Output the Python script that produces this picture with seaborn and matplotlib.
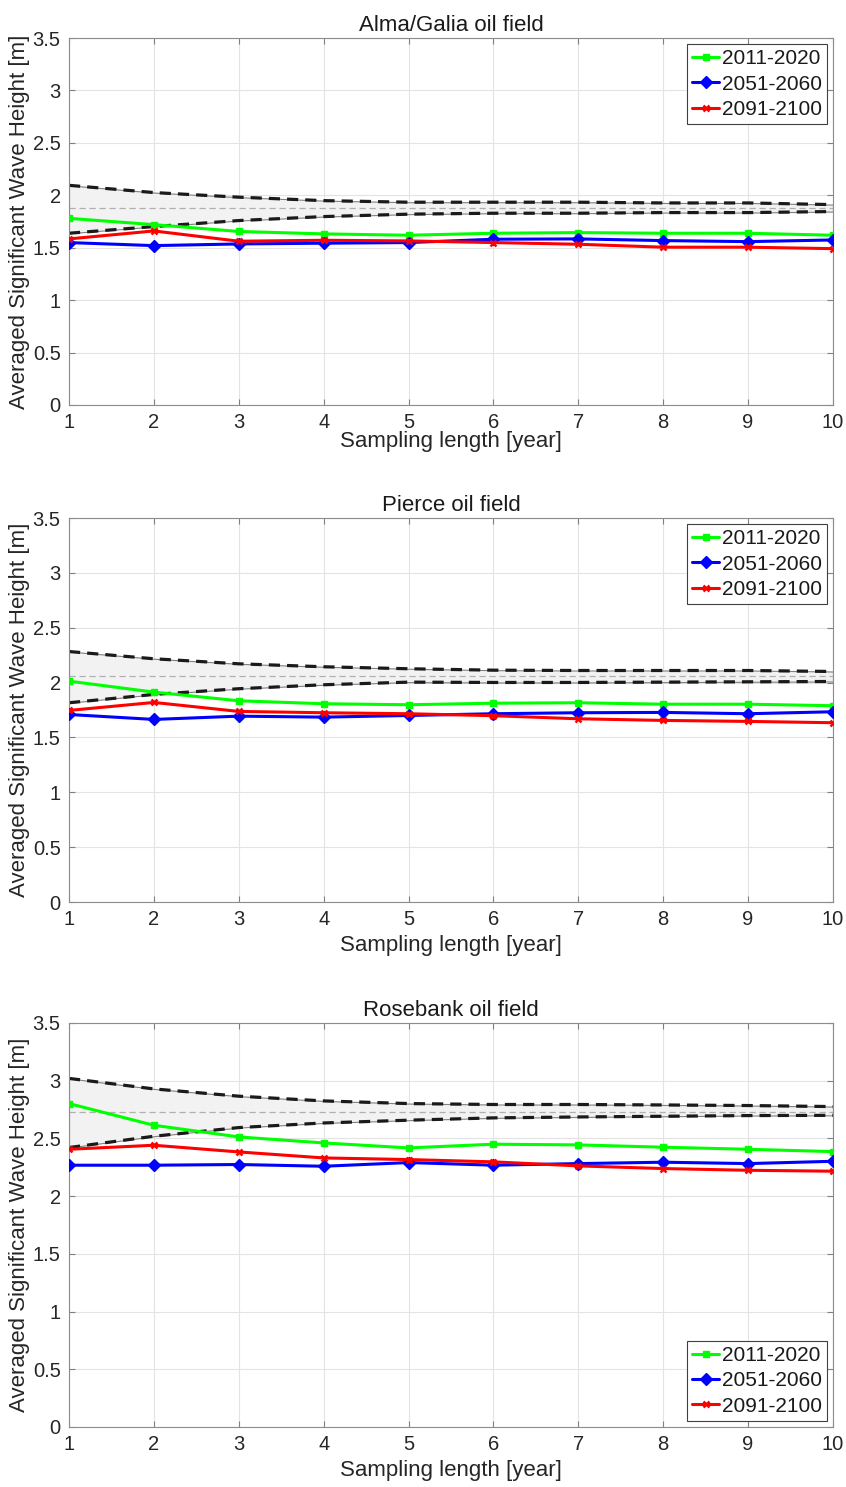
import numpy as np
import pandas as pd
import seaborn as sns
import matplotlib
matplotlib.use("Agg")
import matplotlib.pyplot as plt

sns.set_style("whitegrid")
plt.rcParams['font.family'] = ['Liberation Sans', 'DejaVu Sans']

years = np.arange(1, 11)
periods = ["2011-2020", "2051-2060", "2091-2100"]
titles = ["Alma/Galia oil field", "Pierce oil field", "Rosebank oil field"]

# Alma/Galia
alma_2011 = [1.78, 1.72, 1.655, 1.632, 1.619, 1.638, 1.644, 1.638, 1.638, 1.619]
alma_2051 = [1.549, 1.52, 1.536, 1.543, 1.549, 1.581, 1.584, 1.568, 1.558, 1.574]
alma_2091 = [1.584, 1.66, 1.562, 1.571, 1.565, 1.549, 1.533, 1.505, 1.505, 1.491]
alma_upper = [2.095, 2.026, 1.982, 1.949, 1.934, 1.934, 1.934, 1.927, 1.927, 1.911]
alma_lower = [1.638, 1.702, 1.759, 1.797, 1.82, 1.829, 1.829, 1.835, 1.835, 1.845]
alma_mean = 1.875

# Pierce
pierce_2011 = [2.013, 1.913, 1.834, 1.807, 1.798, 1.812, 1.816, 1.803, 1.803, 1.789]
pierce_2051 = [1.709, 1.664, 1.694, 1.685, 1.70, 1.716, 1.725, 1.728, 1.716, 1.734]
pierce_2091 = [1.746, 1.819, 1.737, 1.725, 1.716, 1.698, 1.670, 1.655, 1.646, 1.634]
pierce_upper = [2.283, 2.217, 2.171, 2.144, 2.126, 2.113, 2.11, 2.11, 2.11, 2.101]
pierce_lower = [1.816, 1.892, 1.944, 1.98, 2.004, 2.001, 2.001, 2.004, 2.007, 2.01]
pierce_mean = 2.06

# Rosebank
rose_2011 = [2.802, 2.614, 2.513, 2.461, 2.418, 2.45, 2.444, 2.424, 2.406, 2.386]
rose_2051 = [2.268, 2.268, 2.274, 2.259, 2.291, 2.268, 2.282, 2.294, 2.282, 2.302]
rose_2091 = [2.406, 2.441, 2.383, 2.331, 2.317, 2.297, 2.262, 2.239, 2.224, 2.216]
rose_upper = [3.02, 2.929, 2.866, 2.825, 2.802, 2.794, 2.794, 2.79, 2.785, 2.776]
rose_lower = [2.421, 2.519, 2.594, 2.634, 2.658, 2.678, 2.686, 2.692, 2.698, 2.70]
rose_mean = 2.726

fields = [
    (alma_2011, alma_2051, alma_2091, alma_upper, alma_lower, alma_mean),
    (pierce_2011, pierce_2051, pierce_2091, pierce_upper, pierce_lower, pierce_mean),
    (rose_2011, rose_2051, rose_2091, rose_upper, rose_lower, rose_mean),
]

colors = {"2011-2020": (0, 1, 0), "2051-2060": (0, 0, 1), "2091-2100": (1, 0, 0)}
markers = {"2011-2020": "s", "2051-2060": "D", "2091-2100": "x"}
msizes = {"2011-2020": 5, "2051-2060": 6, "2091-2100": 4}

W, H = 846, 1487
fig = plt.figure(figsize=(W / 100, H / 100), dpi=100)
# (top, bottom) of each axes in pixels
boxes = [(38, 405), (518, 902), (1023, 1427)]
legend_loc = ["upper right", "upper right", "lower right"]
xlabelpad = [-1, 4, 4]

for i, (top, bot) in enumerate(boxes):
    ax = fig.add_axes([69 / W, 1 - bot / H, 764 / W, (bot - top) / H])
    s2011, s2051, s2091, upper, lower, mean = fields[i]

    # confidence band
    ax.fill_between(years, lower, upper, color="#f2f2f2", edgecolor="#808080", linewidth=0.8, zorder=1)
    sns.lineplot(x=years, y=upper, color="#1a1a1a", linestyle=(0, (3.5, 2.2)), linewidth=2.3, ax=ax, zorder=2)
    sns.lineplot(x=years, y=lower, color="#1a1a1a", linestyle=(0, (3.5, 2.2)), linewidth=2.3, ax=ax, zorder=2)
    ax.axhline(mean, color="#b0b0b0", linestyle=(0, (5, 3)), linewidth=0.9, zorder=2)

    df = pd.DataFrame({
        "year": np.tile(years, 3),
        "hs": np.concatenate([s2011, s2051, s2091]),
        "period": np.repeat(periods, len(years)),
    })
    for p in periods:
        sub = df[df["period"] == p]
        sns.lineplot(data=sub, x="year", y="hs", color=colors[p], marker=markers[p],
                     markersize=msizes[p], markeredgewidth=1.8 if p == "2091-2100" else 1,
                     markeredgecolor=colors[p], linewidth=2.2, label=p, ax=ax, zorder=3)

    ax.set_xlim(1, 10)
    ax.set_ylim(0, 3.5)
    ax.set_xticks(years)
    ax.set_yticks(np.arange(0, 3.51, 0.5))
    ax.set_yticklabels(["0", "0.5", "1", "1.5", "2", "2.5", "3", "3.5"])
    ax.grid(True, color="#e3e3e3", linewidth=0.8)
    ax.tick_params(axis="both", which="both", direction="in", length=4, labelsize=14.5,
                   color="#808080", labelcolor="#262626",
                   top=True, right=True, left=True, bottom=True, pad=6)
    for sp in ax.spines.values():
        sp.set_color("#8c8c8c")
        sp.set_linewidth(0.8)
    ax.set_title(titles[i], fontsize=16, pad=5, color="#1a1a1a")
    ax.set_xlabel("Sampling length [year]", fontsize=16, labelpad=xlabelpad[i], color="#262626")
    ax.set_ylabel("Averaged Significant Wave Height [m]", fontsize=16, color="#262626")
    ax.yaxis.set_label_coords(-0.051, 0.5)

    leg = ax.legend(loc=legend_loc[i], fontsize=15, frameon=True, fancybox=False,
                    framealpha=1, edgecolor="#404040", handlelength=1.3, handletextpad=0.1,
                    borderpad=0.25, labelspacing=0.3, borderaxespad=0.3)
    leg.get_frame().set_linewidth(0.8)
    for t in leg.get_texts():
        t.set_color("#1a1a1a")

fig.savefig("out.png", dpi=100)
